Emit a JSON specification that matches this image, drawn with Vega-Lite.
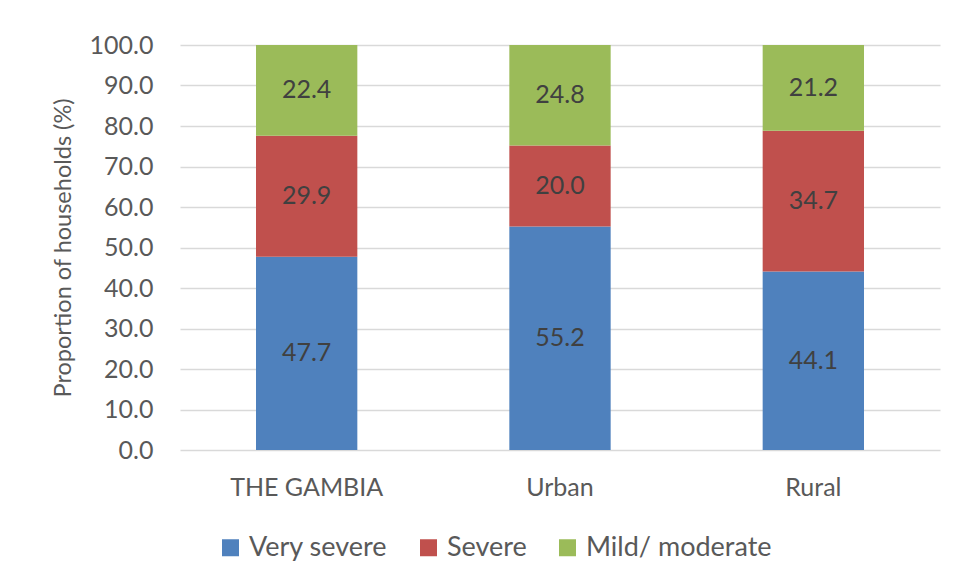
{
  "$schema": "https://vega.github.io/schema/vega-lite/v6.json",
  "autosize": "none",
  "width": 760,
  "height": 405,
  "padding": {"left": 180, "top": 45, "right": 16, "bottom": 133},
  "background": "white",
  "config": {
    "view": {"stroke": null},
    "font": "Lato",
    "axis": {"labelColor": "#595959", "titleColor": "#595959", "titleFontWeight": "normal"}
  },
  "data": {
    "values": [
      {"area": "THE GAMBIA", "severity": "Very severe", "ord": 1, "value": 47.7},
      {"area": "THE GAMBIA", "severity": "Severe", "ord": 2, "value": 29.9},
      {"area": "THE GAMBIA", "severity": "Mild/ moderate", "ord": 3, "value": 22.4},
      {"area": "Urban", "severity": "Very severe", "ord": 1, "value": 55.2},
      {"area": "Urban", "severity": "Severe", "ord": 2, "value": 20.0},
      {"area": "Urban", "severity": "Mild/ moderate", "ord": 3, "value": 24.8},
      {"area": "Rural", "severity": "Very severe", "ord": 1, "value": 44.1},
      {"area": "Rural", "severity": "Severe", "ord": 2, "value": 34.7},
      {"area": "Rural", "severity": "Mild/ moderate", "ord": 3, "value": 21.2}
    ]
  },
  "transform": [
    {"stack": "value", "groupby": ["area"], "sort": [{"field": "ord", "order": "ascending"}], "as": ["v0", "v1"]},
    {"calculate": "(datum.v0 + datum.v1) / 2", "as": "mid"}
  ],
  "encoding": {
    "x": {
      "field": "area", "type": "nominal", "sort": ["THE GAMBIA", "Urban", "Rural"],
      "scale": {"paddingInner": 0.6, "paddingOuter": 0.3},
      "axis": {"title": null, "labelAngle": 0, "labelFontSize": 25, "labelPadding": 25, "domain": false, "ticks": false, "grid": false}
    }
  },
  "layer": [
    {
      "mark": {"type": "bar"},
      "encoding": {
        "y": {
          "field": "v0", "type": "quantitative",
          "scale": {"domain": [0, 100]},
          "axis": {
            "title": "Proportion of households (%)", "titleFontSize": 23.5, "titlePadding": 14,
            "format": ".1f", "values": [0,10,20,30,40,50,60,70,80,90,100], "labelOverlap": false,
            "labelFontSize": 25, "labelPadding": 27, "ticks": false, "domain": false,
            "grid": true, "gridColor": "#d9d9d9", "gridWidth": 1.5
          }
        },
        "y2": {"field": "v1"},
        "color": {
          "field": "severity", "type": "nominal",
          "scale": {"domain": ["Very severe", "Severe", "Mild/ moderate"], "range": ["#4F81BD", "#C0504D", "#9BBB59"]},
          "legend": {
            "title": null, "orient": "none", "direction": "horizontal",
            "legendX": 37, "legendY": 489,
            "symbolType": "square", "symbolSize": 289, "symbolStrokeWidth": 0, "symbolOpacity": 1,
            "labelFontSize": 27, "labelColor": "#595959", "labelOffset": 5, "labelLimit": 400, "columnPadding": 27
          }
        }
      }
    },
    {
      "mark": {"type": "text", "fontSize": 25, "color": "#404040"},
      "encoding": {
        "y": {"field": "mid", "type": "quantitative"},
        "text": {"field": "value", "type": "quantitative", "format": ".1f"}
      }
    }
  ]
}
